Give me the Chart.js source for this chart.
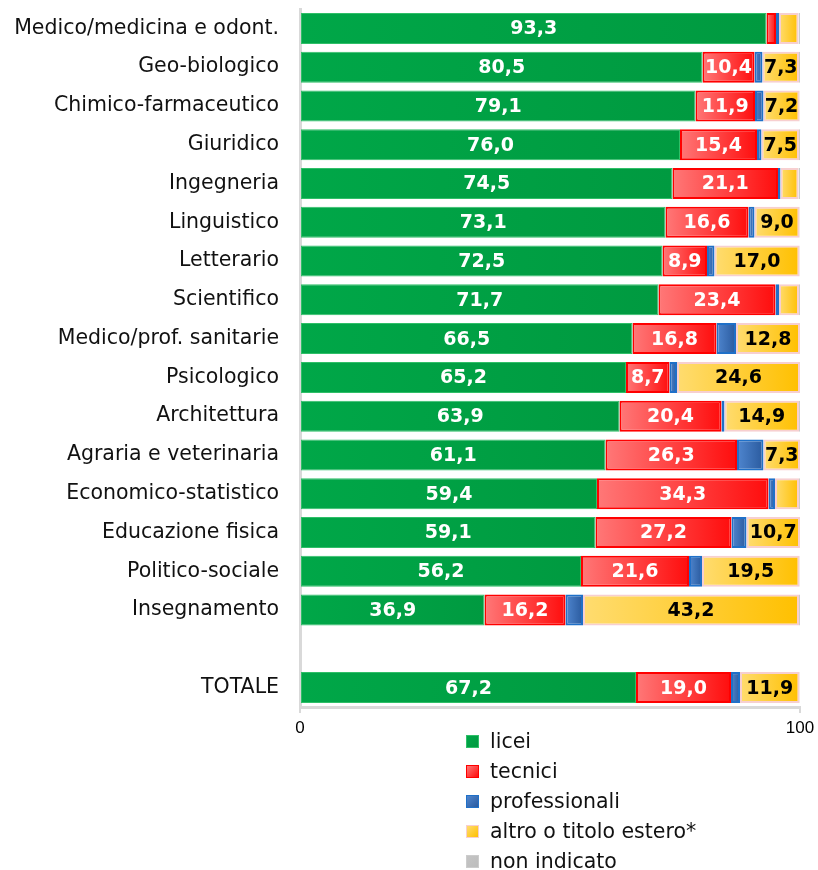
<!DOCTYPE html>
<html>
<head>
<meta charset="utf-8">
<script src="https://cdn.jsdelivr.net/npm/chart.js@4.4.1/dist/chart.umd.min.js"></script>
<style>
body { margin: 0; background: #fff; font-family: "DejaVu Sans", sans-serif; }
#wrap { position: relative; width: 818px; height: 870px; }
#legend { position: absolute; left: 466px; top: 726px; }
.li { height: 30px; display: flex; align-items: center; font-size: 20.5px; color: #111; }
.sw { width: 11px; height: 11px; margin-right: 11px; border: 1px solid; }
</style>
</head>
<body>
<div id="wrap">
  <canvas id="c" width="818" height="740"></canvas>
  <div id="legend"></div>
</div>
<script>
var categories = ['Medico/medicina e odont.', 'Geo-biologico', 'Chimico-farmaceutico', 'Giuridico',
  'Ingegneria', 'Linguistico', 'Letterario', 'Scientifico', 'Medico/prof. sanitarie', 'Psicologico',
  'Architettura', 'Agraria e veterinaria', 'Economico-statistico', 'Educazione fisica',
  'Politico-sociale', 'Insegnamento', '', 'TOTALE'];

var licei         = [93.3, 80.5, 79.1, 76.0, 74.5, 73.1, 72.5, 71.7, 66.5, 65.2, 63.9, 61.1, 59.4, 59.1, 56.2, 36.9, null, 67.2];
var tecnici       = [1.9, 10.4, 11.9, 15.4, 21.1, 16.6, 8.9, 23.4, 16.8, 8.7, 20.4, 26.3, 34.3, 27.2, 21.6, 16.2, null, 19.0];
var professionali = [0.6, 1.6, 1.7, 0.9, 0.5, 1.2, 1.5, 0.7, 3.9, 1.5, 0.6, 5.3, 1.3, 3.0, 2.6, 3.5, null, 1.8];
var altro         = [3.9, 7.3, 7.2, 7.5, 3.6, 9.0, 17.0, 4.0, 12.8, 24.6, 14.9, 7.3, 4.8, 10.7, 19.5, 43.2, null, 11.9];
var nonIndicato   = [0.3, 0.2, 0.1, 0.2, 0.3, 0.1, 0.1, 0.2, 0, 0, 0.2, 0, 0.2, 0, 0.1, 0.2, null, 0.1];

var seriesNames = ['licei', 'tecnici', 'professionali', 'altro o titolo estero*', 'non indicato'];
var xTicks = [0, 100];

var series = [licei, tecnici, professionali, altro, nonIndicato];

// colours: [left, right, border, label colour]
var looks = [
  ['#00a748', '#009a40', '#2fbf68', '#fff'],
  ['#ff7878', '#ff0d0d', '#ff0000', '#fff'],
  ['#4f86cf', '#2a5a9e', '#1f70c8', null],
  ['#ffdc70', '#ffc000', '#f7cfd0', '#000'],
  ['#c4c4c4', '#bdbdbd', '#cccccc', null]
];

function gradFill(si) {
  return function(ctx) {
    var chart = ctx.chart;
    if (ctx.type !== 'data' || !chart.chartArea) return looks[si][1];
    var i = ctx.dataIndex;
    var start = 0;
    for (var k = 0; k < si; k++) start += series[k][i] || 0;
    var xs = chart.scales.x;
    var x0 = xs.getPixelForValue(start);
    var x1 = xs.getPixelForValue(start + (series[si][i] || 0));
    if (x1 - x0 < 1) return looks[si][1];
    var g = chart.ctx.createLinearGradient(x0, 0, x1, 0);
    g.addColorStop(0, looks[si][0]);
    g.addColorStop(1, looks[si][1]);
    return g;
  };
}

var datasets = series.map(function(d, si) {
  return {
    label: seriesNames[si],
    data: d,
    backgroundColor: gradFill(si),
    borderColor: looks[si][2],
    borderWidth: si === 0 ? 1 : 2,
    borderSkipped: false,
    categoryPercentage: 1,
    barPercentage: 0.8
  };
});

function fmt(v) {
  return v.toFixed(1).replace('.', ',');
}

var valueLabels = {
  id: 'valueLabels',
  afterDatasetsDraw: function(chart) {
    var c = chart.ctx;
    c.save();
    c.font = 'bold 19px "DejaVu Sans"';
    c.textAlign = 'center';
    c.textBaseline = 'middle';
    chart.data.datasets.forEach(function(ds, si) {
      if (!looks[si][3]) return;
      var meta = chart.getDatasetMeta(si);
      meta.data.forEach(function(el, i) {
        var v = ds.data[i];
        if (v == null || v < 7) return;
        c.fillStyle = looks[si][3];
        c.fillText(fmt(v), (el.x + el.base) / 2, el.y + 1);
      });
    });
    c.restore();
  }
};

var chart = new Chart(document.getElementById('c'), {
  type: 'bar',
  data: { labels: categories, datasets: datasets },
  plugins: [valueLabels],
  options: {
    indexAxis: 'y',
    responsive: false,
    animation: false,
    layout: { padding: { top: 9, right: 18, left: 0, bottom: 0 } },
    plugins: {
      legend: { display: false },
      tooltip: { enabled: false }
    },
    scales: {
      x: {
        stacked: true,
        min: 0,
        max: 100,
        afterBuildTicks: function(s) { s.ticks = xTicks.map(function(v) { return { value: v }; }); },
        afterFit: function(s) { s.height = 33; s.paddingLeft = 0; s.paddingRight = 0; },
        grid: { drawOnChartArea: false, color: '#d9d9d9', lineWidth: 2, tickLength: 6 },
        border: { color: '#d9d9d9', width: 3 },
        ticks: { color: '#000', font: { family: 'Liberation Sans', size: 17 }, padding: 5, maxRotation: 0 }
      },
      y: {
        stacked: true,
        afterFit: function(s) { s.width = 300; s.paddingTop = 0; s.paddingBottom = 0; },
        grid: { display: false },
        border: { color: '#d9d9d9', width: 3 },
        ticks: { color: '#111', font: { family: 'DejaVu Sans', size: 20.5 }, padding: 13, autoSkip: false }
      }
    }
  }
});

// legend as a vertical list under the axis
var leg = document.getElementById('legend');
seriesNames.forEach(function(name, si) {
  var row = document.createElement('div');
  row.className = 'li';
  var sw = document.createElement('span');
  sw.className = 'sw';
  sw.style.background = 'linear-gradient(135deg,' + looks[si][0] + ',' + looks[si][1] + ')';
  sw.style.borderColor = looks[si][2];
  row.appendChild(sw);
  row.appendChild(document.createTextNode(name));
  leg.appendChild(row);
});
</script>
</body>
</html>
